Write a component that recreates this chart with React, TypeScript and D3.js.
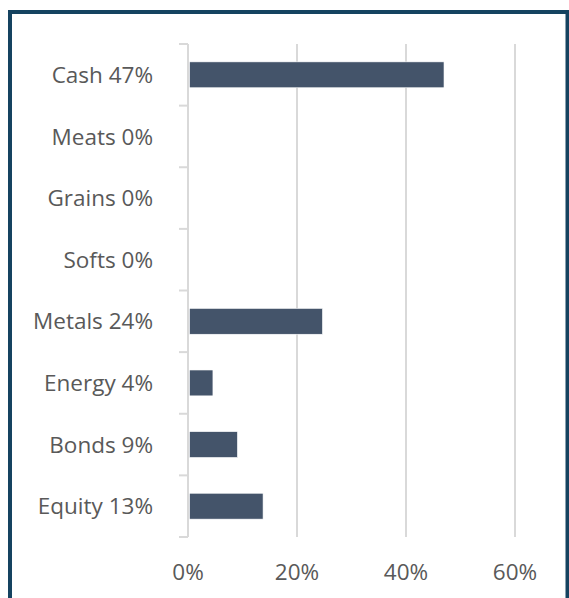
import React from "react";
import * as d3 from "d3";

const categories = ["Cash", "Meats", "Grains", "Softs", "Metals", "Energy", "Bonds", "Equity"];
const values = [46.7, 0, 0, 0, 24.4, 4.3, 8.8, 13.5];
const labelPercents = ["47%", "0%", "0%", "0%", "24%", "4%", "9%", "13%"];
const xTicks = [0, 20, 40, 60];

const W = 569;
const H = 598;
const M = { left: 188, right: 54, top: 44, bottom: 61 };

export default function App() {
  const x = d3.scaleLinear().domain([0, 60]).range([M.left, W - M.right]);
  const y = d3
    .scaleBand<string>()
    .domain(categories)
    .range([M.top, H - M.bottom])
    .paddingInner(0.58)
    .paddingOuter(0.29);
  const bandStep = (H - M.bottom - M.top) / categories.length;
  const boundaries = d3.range(categories.length + 1).map((i) => M.top + i * bandStep);
  const font = "'Open Sans', 'Liberation Sans', sans-serif";
  return (
    <svg width={W} height={H} style={{ position: "absolute", left: 0, top: 0, background: "#fff" }}>
      <rect x={10} y={12} width={557.5} height={620} fill="#fff" stroke="#154360" strokeWidth={4} />
      {xTicks.slice(1).map((t) => (
        <line key={t} x1={x(t)} x2={x(t)} y1={M.top} y2={H - M.bottom} stroke="#d9d9d9" strokeWidth={2} />
      ))}
      {categories.map((c, i) => (
        <rect
          key={c}
          x={x(0) + 1.5}
          y={y(c)!}
          width={Math.max(0, x(values[i]) - x(0))}
          height={y.bandwidth()}
          fill="#44546a"
          stroke={values[i] > 0 ? "#ffffff" : "none"}
          strokeWidth={0.6}
          display={values[i] > 0 ? undefined : "none"}
        />
      ))}
      <line x1={x(0)} x2={x(0)} y1={M.top} y2={H - M.bottom} stroke="#d9d9d9" strokeWidth={2} />
      {boundaries.map((b, i) => (
        <line key={i} x1={x(0) - 9} x2={x(0)} y1={b} y2={b} stroke="#d9d9d9" strokeWidth={2} />
      ))}
      {categories.map((c, i) => (
        <text
          key={c}
          x={153}
          y={y(c)! + y.bandwidth() / 2}
          dy="0.36em"
          textAnchor="end"
          fontFamily={font}
          fontSize={22.5}
          fill="#595959"
        >
          {`${c} ${labelPercents[i]}`}
        </text>
      ))}
      {xTicks.map((t) => (
        <text
          key={t}
          x={x(t)}
          y={580}
          textAnchor="middle"
          fontFamily={font}
          fontSize={22.5}
          fill="#595959"
        >
          {`${t}%`}
        </text>
      ))}
    </svg>
  );
}
